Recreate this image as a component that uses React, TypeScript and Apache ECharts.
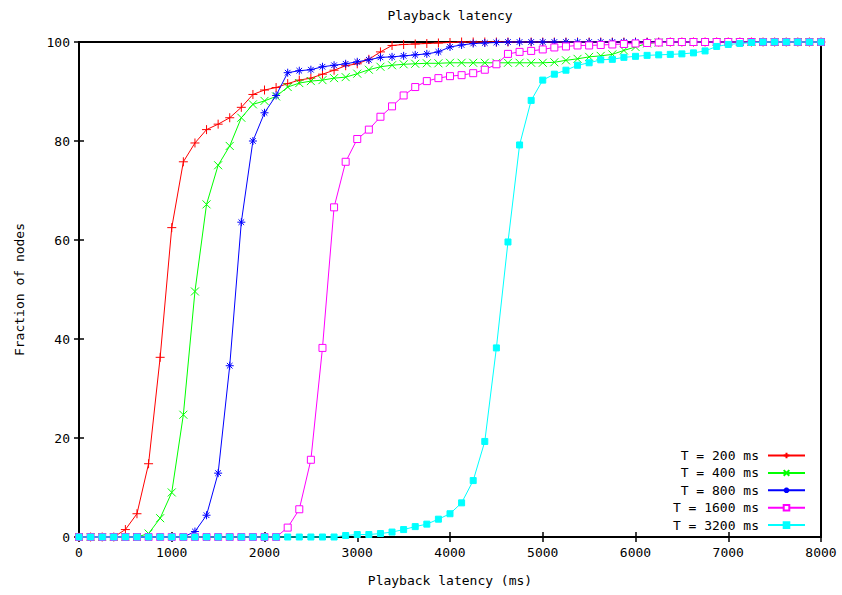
import React, { useEffect, useRef } from "react";
import * as echarts from "echarts";

const latencyMs = [
  0, 125, 250, 375, 500, 625, 750, 875, 1000, 1125, 1250, 1375, 1500, 1625, 1750, 1875,
  2000, 2125, 2250, 2375, 2500, 2625, 2750, 2875, 3000, 3125, 3250, 3375, 3500, 3625, 3750, 3875,
  4000, 4125, 4250, 4375, 4500, 4625, 4750, 4875, 5000, 5125, 5250, 5375, 5500, 5625, 5750, 5875,
  6000, 6125, 6250, 6375, 6500, 6625, 6750, 6875, 7000, 7125, 7250, 7375, 7500, 7625, 7750, 7875,
  8000,
];

const t200 = [
  0, 0, 0, 0, 1.5, 4.7, 14.8, 36.3, 62.5, 75.8, 79.6, 82.3, 83.4, 84.7, 86.8, 89.4,
  90.3, 90.8, 91.6, 92.3, 92.7, 93.5, 94.3, 95.2, 95.6, 96.5, 98.0, 99.3, 99.5, 99.6, 99.7, 99.8,
  99.9, 100, 100, 100, 100, 100, 100, 100, 100, 100, 100, 100, 100, 100, 100, 100,
  100, 100, 100, 100, 100, 100, 100, 100, 100, 100, 100, 100, 100, 100, 100, 100,
  100,
];

const t400 = [
  0, 0, 0, 0, 0, 0, 0.7, 3.8, 9.0, 24.7, 49.6, 67.2, 75.1, 79.0, 84.7, 87.4,
  88.1, 89.0, 90.9, 91.7, 92.1, 92.3, 92.7, 92.9, 93.6, 94.4, 95.0, 95.3, 95.5, 95.6, 95.7, 95.7,
  95.8, 95.8, 95.8, 95.8, 95.8, 95.8, 95.8, 95.8, 95.8, 95.9, 96.3, 96.6, 97.0, 97.2, 97.5, 98.3,
  99.0, 99.7, 99.9, 100, 100, 100, 100, 100, 100, 100, 100, 100, 100, 100, 100, 100,
  100,
];

const t800 = [
  0, 0, 0, 0, 0, 0, 0, 0, 0, 0, 1.1, 4.4, 12.9, 34.6, 63.6, 80.0,
  85.7, 89.2, 93.8, 94.2, 94.4, 95.0, 95.3, 95.6, 96.0, 96.4, 96.9, 97.0, 97.2, 97.4, 97.6, 98.0,
  99.0, 99.4, 99.7, 99.8, 99.9, 100, 100, 100, 100, 100, 100, 100, 100, 100, 100, 100,
  100, 100, 100, 100, 100, 100, 100, 100, 100, 100, 100, 100, 100, 100, 100, 100,
  100,
];

const t1600 = [
  0, 0, 0, 0, 0, 0, 0, 0, 0, 0, 0, 0, 0, 0, 0, 0,
  0, 0, 1.9, 5.6, 15.6, 38.2, 66.6, 75.8, 80.4, 82.3, 84.9, 87.0, 89.2, 90.9, 92.1, 92.7,
  93.1, 93.3, 93.7, 94.4, 95.5, 97.6, 98.0, 98.2, 98.5, 98.9, 99.1, 99.3, 99.3, 99.4, 99.5, 99.6,
  99.7, 99.8, 99.9, 100, 100, 100, 100, 100, 100, 100, 100, 100, 100, 100, 100, 100,
  100,
];

const t3200 = [
  0, 0, 0, 0, 0, 0, 0, 0, 0, 0, 0, 0, 0, 0, 0, 0,
  0, 0, 0, 0, 0, 0, 0, 0.3, 0.5, 0.5, 0.7, 1.0, 1.5, 2.1, 2.6, 3.6,
  4.7, 6.9, 11.4, 19.3, 38.2, 59.6, 79.2, 88.2, 92.3, 93.5, 94.3, 95.3, 95.8, 96.4, 96.5, 96.9,
  97.1, 97.3, 97.4, 97.5, 97.6, 97.8, 98.2, 99.1, 99.5, 99.7, 99.9, 100, 100, 100, 100, 100,
  100,
];

const seriesNames = ["T = 200 ms", "T = 400 ms", "T = 800 ms", "T = 1600 ms", "T = 3200 ms"];
const seriesValues = [t200, t400, t800, t1600, t3200];
const seriesColors = ["#ff0000", "#00ff00", "#0000ff", "#ff00ff", "#00ffff"];

const PLUS = "path://M5,0 L5,10 M0,5 L10,5";
const CROSS = "path://M0,0 L10,10 M0,10 L10,0";
const STAR = "path://M5,0 L5,10 M0,5 L10,5 M1.5,1.5 L8.5,8.5 M1.5,8.5 L8.5,1.5";
const BOX = "path://M0,0 L10,0 L10,10 L0,10 Z";
const seriesSymbols = [PLUS, CROSS, STAR, BOX, "rect"];
const seriesSymbolSizes = [9, 8, 8, 7, 6];
const seriesFills = ["#ff0000", "#00ff00", "#0000ff", "#ffffff", "#00ffff"];

const FONT = "DejaVu Sans Mono";

export default function App() {
  const ref = useRef<HTMLDivElement>(null);
  useEffect(() => {
    if (!ref.current) return;
    const chart = echarts.init(ref.current, undefined, { renderer: "svg" });
    const textStyle = { fontFamily: FONT, fontSize: 13, color: "#000" };
    const axisCommon = {
      axisLine: { show: true, lineStyle: { color: "#000", width: 2 } },
      axisTick: { show: true, inside: true, length: 5, lineStyle: { color: "#000", width: 1.5 } },
      splitLine: { show: false },
    };
    const option: any = {
      animation: false,
      backgroundColor: "#fff",
      title: {
        text: "Playback latency",
        left: 450,
        top: 9,
        padding: 0,
        textAlign: "center",
        textStyle: { ...textStyle, fontWeight: "normal" },
      },
      grid: { left: 79, right: 21, top: 42, bottom: 58, show: true, borderColor: "#000", borderWidth: 2, backgroundColor: "transparent" },
      xAxis: [
        {
          type: "value",
          min: 0,
          max: 8000,
          interval: 1000,
          ...axisCommon,
          axisLabel: { ...textStyle, margin: 9, formatter: (v: number) => String(v) },
          name: "Playback latency (ms)",
          nameLocation: "middle",
          nameGap: 37,
          nameTextStyle: textStyle,
        },
        {
          type: "value",
          position: "top",
          min: 0,
          max: 8000,
          interval: 1000,
          ...axisCommon,
          axisLabel: { show: false },
        },
      ],
      yAxis: [
        {
          type: "value",
          min: 0,
          max: 100,
          interval: 20,
          ...axisCommon,
          axisLabel: { ...textStyle, margin: 9 },
          name: "Fraction of nodes",
          nameLocation: "middle",
          nameGap: 53,
          nameTextStyle: textStyle,
        },
        {
          type: "value",
          position: "right",
          min: 0,
          max: 100,
          interval: 20,
          ...axisCommon,
          axisLabel: { show: false },
        },
      ],
      legend: seriesNames.map((n, i) => ({
        data: [n],
        orient: "vertical",
        right: 36,
        top: 449 + i * 17.4,
        align: "right",
        itemWidth: 37,
        itemHeight: 7,
        padding: 0,
        selectedMode: false,
        textStyle: { ...textStyle, padding: [0, 4, 0, 0] },
      })),
      series: seriesNames.map((n, i) => ({
        name: n,
        type: "line",
        xAxisIndex: 0,
        yAxisIndex: 0,
        data: latencyMs.map((x, j) => [x, seriesValues[i][j]]),
        symbol: seriesSymbols[i],
        symbolSize: seriesSymbolSizes[i],
        showAllSymbol: true,
        clip: false,
        color: seriesColors[i],
        lineStyle: { color: seriesColors[i], width: 1 },
        itemStyle: {
          color: seriesFills[i],
          borderColor: seriesColors[i],
          borderWidth: 1,
        },
        emphasis: { disabled: true },
        z: 2 + i,
      })),
    };
    chart.setOption(option);
    return () => chart.dispose();
  }, []);
  return (
    <div
      ref={ref}
      style={{ position: "fixed", left: 0, top: 0, width: 842, height: 595, background: "#fff" }}
    />
  );
}
